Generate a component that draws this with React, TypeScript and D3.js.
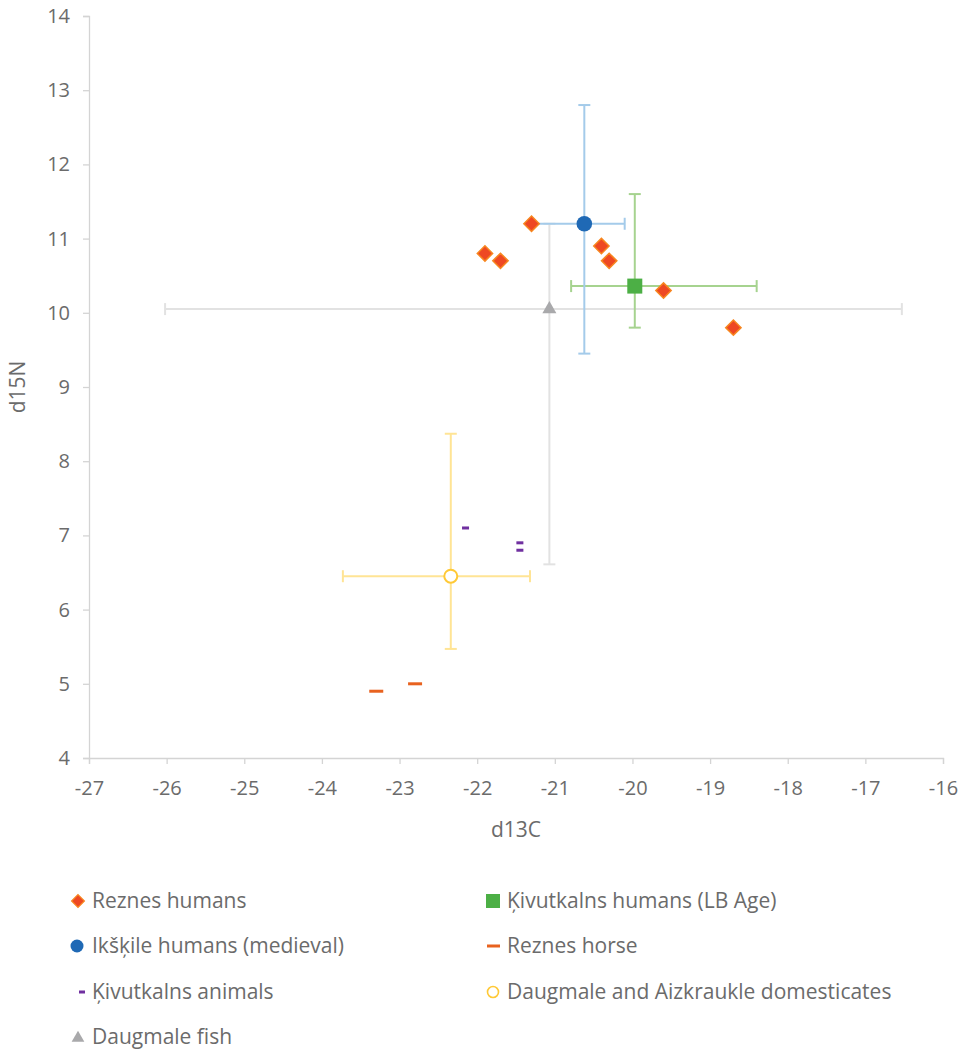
import React, { useEffect, useRef } from "react";
import * as d3 from "d3";

// Reznes humans
const reznesHumansX = [-21.3, -21.9, -21.7, -20.4, -20.3, -19.6, -18.7];
const reznesHumansY = [11.2, 10.8, 10.7, 10.9, 10.7, 10.3, 9.8];

// Ikškile humans (medieval): mean, [minus, plus] errors
const ikskileXY = [-20.62, 11.2];
const ikskileErrX = [0.68, 0.52];
const ikskileErrY = [1.75, 1.6];

// Ķivutkalns humans (LB Age)
const kivutHumansXY = [-19.97, 10.36];
const kivutHumansErrX = [0.82, 1.57];
const kivutHumansErrY = [0.56, 1.24];

// Reznes horse
const reznesHorseX = [-23.3, -22.8];
const reznesHorseY = [4.9, 5.0];

// Ķivutkalns animals
const kivutAnimalsX = [-22.15, -21.45, -21.45];
const kivutAnimalsY = [7.1, 6.9, 6.8];

// Daugmale and Aizkraukle domesticates
const domesticXY = [-22.34, 6.45];
const domesticErrX = [1.39, 1.02];
const domesticErrY = [0.98, 1.92];

// Daugmale fish
const fishXY = [-21.07, 10.05];
const fishErrX = [4.95, 4.54];
const fishErrY = [3.44, 1.15];

const xTicks = d3.range(-27, -15, 1);
const yTicks = d3.range(4, 15, 1);

const legendItems = [
  "Reznes humans",
  "Ķivutkalns humans (LB Age)",
  "Ikšķile humans (medieval)",
  "Reznes horse",
  "Ķivutkalns animals",
  "Daugmale and Aizkraukle domesticates",
  "Daugmale fish",
];

const FONT = "'Open Sans', 'Noto Sans', sans-serif";

const App = () => {
  const ref = useRef<SVGSVGElement>(null);

  useEffect(() => {
    const svg = d3.select(ref.current);
    svg.selectAll("*").remove();

    const x = d3.scaleLinear().domain([-27, -16]).range([89, 943]);
    const y = d3.scaleLinear().domain([4, 14]).range([758, 16]);

    const axisColor = "#d4d4d4";
    const labelColor = "#6b6b6b";
    const fmt = (d: number) => String(d); // plain hyphen like the original

    // y axis
    const yAxis = svg
      .append("g")
      .attr("transform", `translate(${x(-27)},0)`)
      .call(d3.axisLeft(y).tickValues(yTicks).tickFormat(fmt).tickSize(6).tickSizeOuter(6).tickPadding(13));
    yAxis.select(".domain").attr("stroke", axisColor).attr("stroke-width", 1.3);
    yAxis.selectAll(".tick line").attr("stroke", axisColor).attr("stroke-width", 1.3);
    yAxis
      .selectAll(".tick text")
      .attr("fill", labelColor)
      .attr("font-family", FONT)
      .attr("font-size", 20);

    // x axis
    const xAxis = svg
      .append("g")
      .attr("transform", `translate(0,${y(4)})`)
      .call(d3.axisBottom(x).tickValues(xTicks).tickFormat(fmt).tickSize(6).tickSizeOuter(6).tickPadding(17));
    xAxis.select(".domain").attr("stroke", axisColor).attr("stroke-width", 1.3);
    xAxis.selectAll(".tick line").attr("stroke", axisColor).attr("stroke-width", 1.3);
    xAxis
      .selectAll(".tick text")
      .attr("fill", labelColor)
      .attr("font-family", FONT)
      .attr("font-size", 20);

    // axis titles
    svg
      .append("text")
      .attr("x", (x(-27) + x(-16)) / 2)
      .attr("y", 837)
      .attr("text-anchor", "middle")
      .attr("fill", labelColor)
      .attr("font-family", FONT)
      .attr("font-size", 21)
      .text("d13C");
    svg
      .append("text")
      .attr("transform", `translate(25,${(y(4) + y(14)) / 2}) rotate(-90)`)
      .attr("text-anchor", "middle")
      .attr("fill", labelColor)
      .attr("font-family", FONT)
      .attr("font-size", 21)
      .text("d15N");

    // error bars
    const cap = 6;
    const errorBars = (
      xy: number[],
      ex: number[],
      ey: number[],
      color: string
    ) => {
      const g = svg.append("g").attr("stroke", color).attr("stroke-width", 2).attr("fill", "none");
      const cx = x(xy[0]);
      const cy = y(xy[1]);
      const x0 = x(xy[0] - ex[0]);
      const x1 = x(xy[0] + ex[1]);
      const y0 = y(xy[1] - ey[0]);
      const y1 = y(xy[1] + ey[1]);
      g.append("line").attr("x1", x0).attr("x2", x1).attr("y1", cy).attr("y2", cy);
      g.append("line").attr("x1", x0).attr("x2", x0).attr("y1", cy - cap).attr("y2", cy + cap);
      g.append("line").attr("x1", x1).attr("x2", x1).attr("y1", cy - cap).attr("y2", cy + cap);
      g.append("line").attr("x1", cx).attr("x2", cx).attr("y1", y0).attr("y2", y1);
      g.append("line").attr("x1", cx - cap).attr("x2", cx + cap).attr("y1", y0).attr("y2", y0);
      g.append("line").attr("x1", cx - cap).attr("x2", cx + cap).attr("y1", y1).attr("y2", y1);
    };

    errorBars(fishXY, fishErrX, fishErrY, "#e2e2e2");
    errorBars(domesticXY, domesticErrX, domesticErrY, "#ffe495");
    errorBars(kivutHumansXY, kivutHumansErrX, kivutHumansErrY, "#a6d38f");
    errorBars(ikskileXY, ikskileErrX, ikskileErrY, "#a4cbea");

    const diamond = d3.symbol().type(d3.symbolDiamond2).size(150);
    const triangle = d3.symbol().type(d3.symbolTriangle).size(85);

    // Reznes humans
    svg
      .append("g")
      .selectAll("path")
      .data(reznesHumansX)
      .join("path")
      .attr("d", diamond)
      .attr("transform", (d, i) => `translate(${x(d)},${y(reznesHumansY[i])})`)
      .attr("fill", "#ee4823")
      .attr("stroke", "#f7861f")
      .attr("stroke-width", 1.5);

    // Ķivutkalns humans
    svg
      .append("rect")
      .attr("x", x(kivutHumansXY[0]) - 7.5)
      .attr("y", y(kivutHumansXY[1]) - 7.5)
      .attr("width", 15)
      .attr("height", 15)
      .attr("fill", "#4caf45");

    // Ikšķile humans
    svg
      .append("circle")
      .attr("cx", x(ikskileXY[0]))
      .attr("cy", y(ikskileXY[1]))
      .attr("r", 7.8)
      .attr("fill", "#1f69b5");

    // Reznes horse
    svg
      .append("g")
      .selectAll("rect")
      .data(reznesHorseX)
      .join("rect")
      .attr("x", (d) => x(d) - 7)
      .attr("y", (d, i) => y(reznesHorseY[i]) - 1.5)
      .attr("width", 14)
      .attr("height", 3)
      .attr("fill", "#e8621f");

    // Ķivutkalns animals
    svg
      .append("g")
      .selectAll("rect")
      .data(kivutAnimalsX)
      .join("rect")
      .attr("x", (d) => x(d) - 3.5)
      .attr("y", (d, i) => y(kivutAnimalsY[i]) - 1.5)
      .attr("width", 7)
      .attr("height", 3)
      .attr("fill", "#7030a0");

    // domesticates
    svg
      .append("circle")
      .attr("cx", x(domesticXY[0]))
      .attr("cy", y(domesticXY[1]))
      .attr("r", 6.5)
      .attr("fill", "#fff")
      .attr("stroke", "#ffc936")
      .attr("stroke-width", 2);

    // fish
    svg
      .append("path")
      .attr("d", triangle)
      .attr("transform", `translate(${x(fishXY[0])},${y(fishXY[1])})`)
      .attr("fill", "#a9a9ab");

    // legend
    const legendPos = [
      [78, 901],
      [493, 901],
      [78, 946],
      [493, 946],
      [78, 992],
      [493, 992],
      [78, 1037],
    ];
    const lg = svg.append("g");
    legendItems.forEach((label, i) => {
      const [lx, ly] = legendPos[i];
      const item = lg.append("g").attr("transform", `translate(${lx},${ly})`);
      if (i === 0) {
        item
          .append("path")
          .attr("d", d3.symbol().type(d3.symbolDiamond2).size(105)())
          .attr("fill", "#ee4823")
          .attr("stroke", "#f7861f")
          .attr("stroke-width", 1.2);
      } else if (i === 1) {
        item.append("rect").attr("x", -7).attr("y", -7).attr("width", 14).attr("height", 14).attr("fill", "#4caf45");
      } else if (i === 2) {
        item.append("circle").attr("cx", -1).attr("r", 6.5).attr("fill", "#1f69b5");
      } else if (i === 3) {
        item.append("rect").attr("x", -6).attr("y", -1.5).attr("width", 13).attr("height", 3).attr("fill", "#e8621f");
      } else if (i === 4) {
        item.append("rect").attr("x", 1).attr("y", -1.5).attr("width", 6).attr("height", 3).attr("fill", "#7030a0");
      } else if (i === 5) {
        item.append("circle").attr("r", 5.5).attr("fill", "#fff").attr("stroke", "#ffc936").attr("stroke-width", 1.6);
      } else {
        item
          .append("path")
          .attr("d", d3.symbol().type(d3.symbolTriangle).size(70)())
          .attr("transform", "translate(0,1)")
          .attr("fill", "#a9a9ab");
      }
      item
        .append("text")
        .attr("x", 14)
        .attr("dy", "0.35em")
        .attr("fill", labelColor)
        .attr("font-family", FONT)
        .attr("font-size", 21)
        .text(label);
    });
  }, []);

  return (
    <svg
      ref={ref}
      width={964}
      height={1049}
      style={{ position: "absolute", left: 0, top: 0, background: "#fff" }}
    ></svg>
  );
};

export default App;
